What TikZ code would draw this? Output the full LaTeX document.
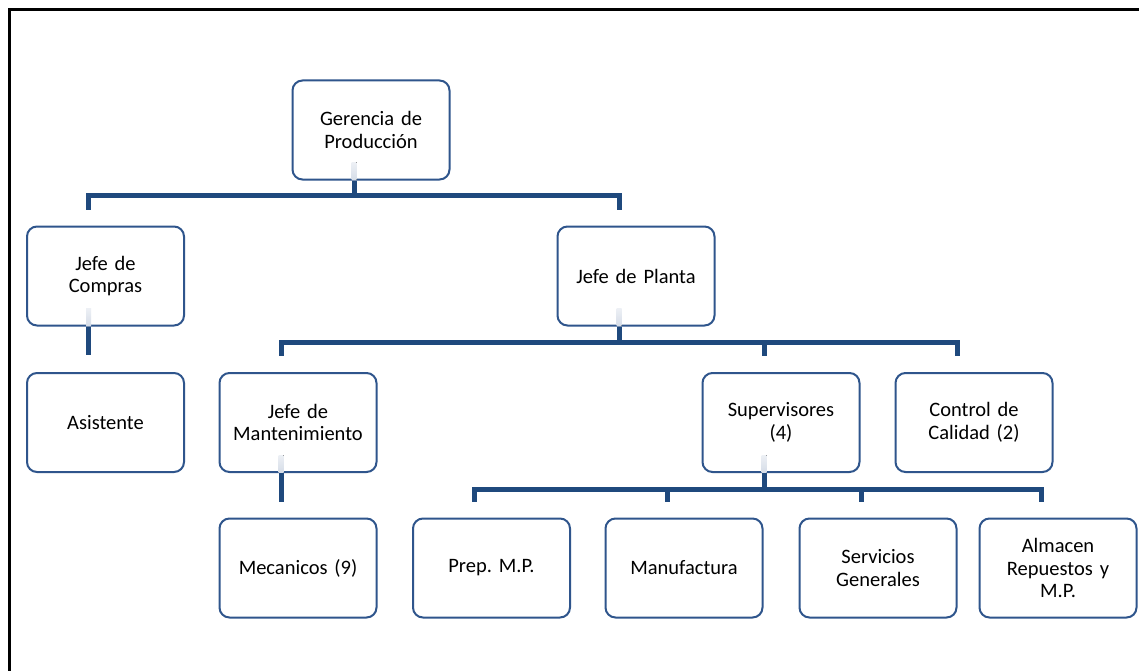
\documentclass[tikz,border=0pt]{standalone}
\usepackage{fontspec}
\setmainfont{Carlito}
\usetikzlibrary{calc}
\definecolor{lineblue}{RGB}{31,73,125}
\definecolor{boxblue}{RGB}{47,85,140}
\definecolor{stubc}{RGB}{214,221,232}
\tikzset{
  orgbox/.style={draw=boxblue, line width=2pt, rounded corners=10pt, fill=white,
    minimum width=157pt, minimum height=99pt, align=center, inner sep=2pt,
    font=\fontsize{20.5pt}{22.5pt}\selectfont\frenchspacing, text width=152pt},
  conn/.style={draw=lineblue, line width=5pt, line join=miter},
}
\newcommand{\stub}[1]{%
  \fill[top color=stubc!45, bottom color=stubc] ([xshift=-19.5pt,yshift=1pt]#1.south) rectangle ([xshift=-14.5pt,yshift=18pt]#1.south);}
\begin{document}
\begin{tikzpicture}[x=1pt,y=-1pt]
\useasboundingbox (0,0) rectangle (1139,671);
\fill[white] (0,0) rectangle (1139,671);
\draw[black, line width=3.6pt] (9.5,680) -- (9.5,9.5) -- (1150,9.5);

\node[orgbox] (ger) at (371,130) {Gerencia de\\Producción};
\node[orgbox] (compras) at (105.5,276) {Jefe de\\Compras};
\node[orgbox] (planta) at (636,276) {Jefe de Planta};
\node[orgbox] (asist) at (105.5,422.5) {Asistente};
\node[orgbox] (mant) at (298,422.5) {Jefe de\\Mantenimiento};
\node[orgbox] (sup) at (781,422.5) {Supervisores\\(4)};
\node[orgbox] (cal) at (974,422.5) {Control de\\Calidad (2)};
\node[orgbox] (mec) at (298,568) {Mecanicos (9)};
\node[orgbox] (prep) at (491.5,568) {Prep. M.P.};
\node[orgbox] (manu) at (684,568) {Manufactura};
\node[orgbox] (serv) at (878,568) {Servicios\\Generales};
\node[orgbox] (alm) at (1058,568) {Almacen\\Repuestos y\\M.P.};

\stub{ger}\stub{compras}\stub{planta}\stub{mant}\stub{sup}

% Gerencia -> Compras, Planta
\foreach \c in {compras,planta}
  \draw[conn] ([xshift=-17pt]ger.south) -- ++(0,15) -| ([xshift=-17pt,yshift=16pt]\c.north);
% Compras -> Asistente
\draw[conn] ([xshift=-17pt]compras.south) -- ([xshift=-17pt,yshift=17pt]asist.north);
% Planta -> Mant, Sup, Cal
\foreach \c in {mant,sup,cal}
  \draw[conn] ([xshift=-17pt]planta.south) -- ++(0,16) -| ([xshift=-17pt,yshift=16pt]\c.north);
% Mant -> Mecanicos
\draw[conn] ([xshift=-17pt]mant.south) -- ([xshift=-17pt,yshift=16pt]mec.north);
% Sup -> four
\foreach \c in {prep,manu,serv,alm}
  \draw[conn] ([xshift=-17pt]sup.south) -- ++(0,16) -| ([xshift=-17pt,yshift=16pt]\c.north);
\end{tikzpicture}
\end{document}
